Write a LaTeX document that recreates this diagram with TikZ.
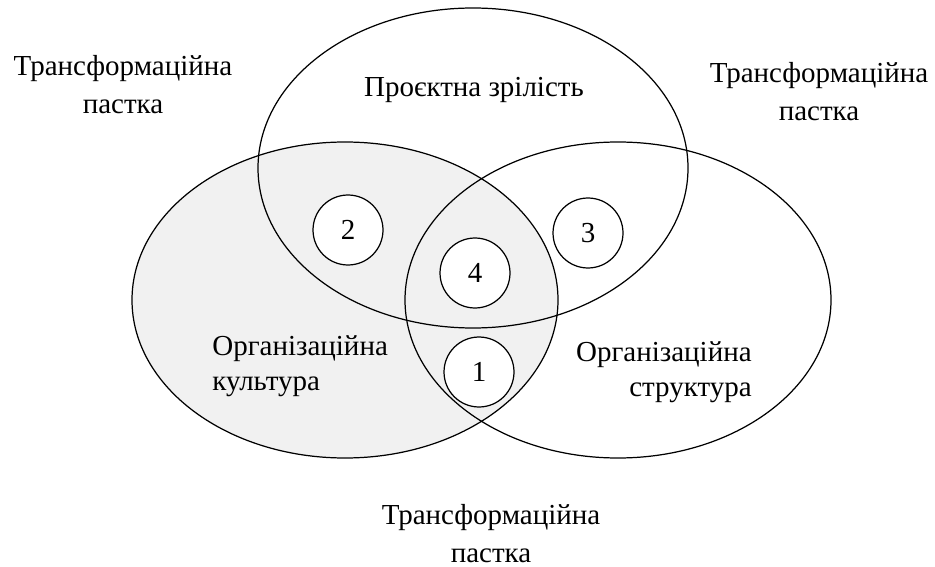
\documentclass[tikz,border=0pt]{standalone}
\usepackage{fontspec}
\setmainfont{Liberation Serif}[Script=Cyrillic]
\newfontfamily\vennfont[Script=Cyrillic]{Liberation Serif}
\usepackage{tikz}
\usetikzlibrary{positioning}
\definecolor{venngrey}{HTML}{F1F1F1}

\begin{document}
\begin{tikzpicture}[
		x=0.02cm, y=-0.02cm,
		zone/.style={draw, line width=0.7pt},
		marker/.style={circle, draw, line width=0.7pt, fill=white, minimum size=1.4cm, inner sep=0pt, font=\vennfont\fontsize{16.5}{20}\selectfont},
		trap/.style={align=center, inner sep=0pt, font=\vennfont\fontsize{16.5}{21.6}\selectfont},
		caption/.style={inner sep=0pt, font=\vennfont\fontsize{16.5}{20}\selectfont}
		]
		\useasboundingbox (0,0) rectangle (935,567);

		% --- les trois ellipses ---
		\fill[venngrey] (345,300) ellipse [x radius=213, y radius=158];
		\draw[zone] (473,168) ellipse [x radius=215, y radius=160];
		\draw[zone] (345,300) ellipse [x radius=213, y radius=158];
		\draw[zone] (618,300) ellipse [x radius=213, y radius=158];

		% --- zones numérotées ---
		\node[marker] (m2) at (348,230) {2};
		\node[marker] (m3) at (588,233) {3};
		\node[marker] (m4) at (475,273) {4};
		\node[marker] (m1) at (479,372) {1};

		% --- textes ---
		\node[caption, anchor=base] (maturity) at (474,97) {Проєктна зрілість};
		\node[caption, align=left, anchor=west] (culture) at (212,366) {Організаційна\\культура};
		\node[caption, align=right, anchor=east] (structure) at (752,372) {Організаційна\\структура};

		\node[trap] (trapL) at (123,85) {Трансформаційна\\пастка};
		\node[trap] (trapR) at (819,92) {Трансформаційна\\пастка};
		\node[trap] (trapB) at (491,534) {Трансформаційна\\пастка};

	\end{tikzpicture}
\end{document}
